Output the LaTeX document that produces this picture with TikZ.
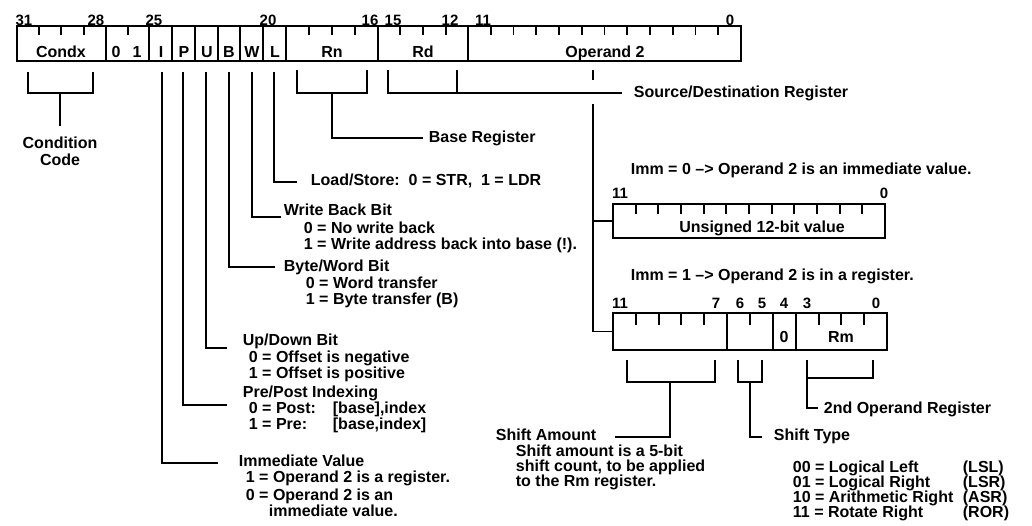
\documentclass[tikz,border=0pt]{standalone}
\usepackage{fontspec}
\setmainfont{Liberation Sans}
\begin{document}
\begin{tikzpicture}[x=1pt,y=-1pt,line width=1.8pt,
  txt/.style={font=\fontsize{16}{16}\selectfont\bfseries,inner sep=0pt,anchor=base west},
  ctr/.style={txt,anchor=base},
  bitno/.style={font=\fontsize{15}{15}\selectfont\bfseries,inner sep=0pt,anchor=base},
  reg/.style={draw,line width=2pt,inner sep=0pt,outer sep=0pt,anchor=north west}]
  \useasboundingbox (0,0) rectangle (1032,525);

  % instruction word
  \node[reg,minimum width=724pt,minimum height=35pt] (word) at (17,26) {};
  \foreach \x in {106,149,172,195,218,240,263,286,378,468}
    \draw (\x,26) -- (\x,61);
  \foreach \x in {39,61,84,128,309,332,355,400,423,446}
    \draw (\x,26) -- ++(0,9);
  \foreach \k in {1,...,11}
    \draw (468+22.75*\k,26) -- ++(0,9);
  \foreach \n/\x in {31/24,28/96,25/154,20/268,16/370,15/393,12/450,11/483,0/730}
    \node[bitno] (b\n) at (\x,25) {\n};
  \foreach \t/\x/\m in {Condx/61/cnd,0/116/zr,1/137/on,I/161/ib,P/184/pb,U/207/ub,B/229/bb,W/252/wbt,L/275/lb,Rn/332/rn,Rd/423/rd,Operand 2/605/op}
    \node[ctr] (\m) at (\x,57) {\t};

  % condition code
  \node[ctr] (cc) at (60,148) {Condition};
  \node[ctr] (cc2) at (60,165) {Code};
  \draw (28,72) |- (93,93) -- (93,72);
  \draw (60,93) -- ([yshift=10pt]cc.north);

  % single bit fields
  \node[txt] (ls) at (310,185) {Load/Store:\ \ 0 = STR,\ \ 1 = LDR};
  \node[txt] (wb) at (283,215) {Write Back Bit};
  \node[txt] (wb1) at (303,233) {0 = No write back};
  \node[txt] (wb2) at (303,249) {1 = Write address back into base (!).};
  \node[txt] (bw) at (283,271) {Byte/Word Bit};
  \node[txt] (bw1) at (305,288) {0 = Word transfer};
  \node[txt] (bw2) at (305,304) {1 = Byte transfer (B)};
  \node[txt] (ud) at (242,345) {Up/Down Bit};
  \node[txt] (ud1) at (248,362) {0 = Offset is negative};
  \node[txt] (ud2) at (248,378) {1 = Offset is positive};
  \node[txt] (pp) at (242,397) {Pre/Post Indexing};
  \node[txt] (pp1) at (248,413) {0 = Post:};
  \node[txt] (pp1b) at (332,413) {[base],index};
  \node[txt] (pp2) at (248,429) {1 = Pre:};
  \node[txt] (pp2b) at (332,429) {[base,index]};
  \node[txt] (imm) at (238,466) {Immediate Value};
  \node[txt] (imm1) at (245,482) {1 = Operand 2 is a register.};
  \node[txt] (imm2) at (245,500) {0 = Operand 2 is an};
  \node[txt] (imm3) at (268,516) {immediate value.};
  \foreach \b/\x in {I/162,P/183,U/206,B/229,W/252,L/274}
    \coordinate (f\b) at (\x,72);
  \draw (fI) |- ([xshift=-20pt,yshift=3pt]imm.base west);
  \draw (fP) |- ([xshift=-15pt,yshift=-8pt]pp.base west);
  \draw (fU) |- ([xshift=-15pt,yshift=-3pt]ud.base west);
  \draw (fB) |- ([xshift=-8pt,yshift=4pt]bw.base west);
  \draw (fW) |- ([xshift=-2pt,yshift=-2pt]wb.base west);
  \draw (fL) |- ([xshift=-13pt,yshift=3pt]ls.base west);

  % base and destination registers
  \node[txt] (bsr) at (428,142) {Base Register};
  \node[txt] (sd) at (633,97) {Source/Destination Register};
  \draw (297,70) |- (367,93) -- (367,70);
  \draw (332,93) |- ([xshift=-5pt,yshift=4pt]bsr.base west);
  \draw (388,70) |- ([xshift=-11pt,yshift=4pt]sd.base west);
  \draw (457,70) -- (457,93);

  % operand 2, immediate form
  \node[txt] (imz) at (630,174) {Imm = 0\ --> Operand 2 is an immediate value.};
  \node[reg,minimum width=272pt,minimum height=34pt] (ibox) at (613,204) {};
  \foreach \k in {1,...,11}
    \draw (613+22.67*\k,204) -- ++(0,10);
  \node[bitno] (i11) at (620,198) {11};
  \node[bitno] (i0) at (884,198) {0};
  \node[ctr] (uv) at (762,232) {Unsigned 12-bit value};

  % operand 2, register form
  \node[txt] (imo) at (630,280) {Imm = 1\ --> Operand 2 is in a register.};
  \node[reg,minimum width=274pt,minimum height=37pt] (sbox) at (613,313) {};
  \foreach \x in {727,773,796}
    \draw (\x,313) -- (\x,350);
  \foreach \x in {636,659,681,704,750,819,841,864}
    \draw (\x,313) -- ++(0,12);
  \foreach \n/\x in {11/620,7/716,6/740,5/762,4/784,3/807,0/876}
    \node[bitno] (s\n) at (\x,308) {\n};
  \node[ctr] (sz) at (784,342) {0};
  \node[ctr] (srm) at (841,342) {Rm};

  \draw (593,70) -- (593,80);
  \coordinate (op2) at (593,104);
  \draw (op2) |- (sbox.west);
  \draw (op2 |- ibox.west) -- (ibox.west);

  % shift fields
  \node[txt] (samt) at (495,440) {Shift Amount};
  \node[txt] (samt1) at (515,456) {Shift amount is a 5-bit};
  \node[txt] (samt2) at (515,471) {shift count, to be applied};
  \node[txt] (samt3) at (515,486) {to the Rm register.};
  \draw (627,360) |- (715,382) -- (715,360);
  \draw (670,382) |- ([xshift=18pt,yshift=3pt]samt.base east);

  \node[txt] (styp) at (773,440) {Shift Type};
  \draw (738,360) |- (762,382) -- (762,360);
  \draw (750,382) |- ([xshift=-11pt,yshift=3pt]styp.base west);
  \foreach \c/\d/\a [count=\r] in {00/Logical Left/LSL,01/Logical Right/LSR,10/Arithmetic Right/ASR,11/Rotate Right/ROR}{
    \node[txt] (t\r) at (792,457+15*\r) {\c\ = \d};
    \node[txt] (a\r) at (962,457+15*\r) {(\a)};
  }

  \node[txt] (rm) at (823,413) {2nd Operand Register};
  \draw (873,360) |- (807,378);
  \draw (807,360) |- ([xshift=-5pt,yshift=5pt]rm.base west);
\end{tikzpicture}
\end{document}
